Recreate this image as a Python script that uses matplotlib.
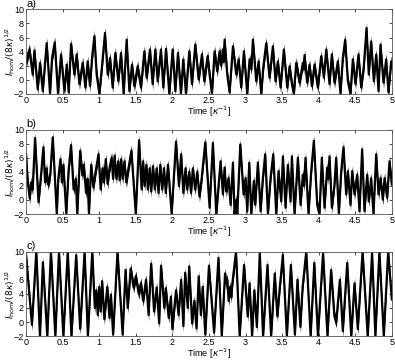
import numpy as np
import matplotlib
matplotlib.use('Agg')
import matplotlib.pyplot as plt

plt.rcParams.update({'font.family': 'Liberation Sans', 'font.size': 6.5,
                     'mathtext.fontset': 'dejavusans'})

# ---- panel a) : extrema ----
ta = [0.0, 0.046, 0.091, 0.114, 0.159, 0.191, 0.228, 0.282, 0.328, 0.355, 0.392, 0.437,
      0.478, 0.524, 0.556, 0.583, 0.615, 0.66, 0.692, 0.729, 0.774, 0.811, 0.842, 0.874,
      0.902, 0.934, 0.965, 1.002, 1.038, 1.079, 1.116, 1.148, 1.184, 1.22, 1.261, 1.298,
      1.334, 1.375, 1.412, 1.448, 1.48, 1.525, 1.571, 1.617, 1.648, 1.694, 1.73, 1.767,
      1.799, 1.844, 1.876, 1.913, 1.958, 2.004, 2.04, 2.077, 2.117, 2.149, 2.186, 2.231,
      2.268, 2.313, 2.359, 2.404, 2.436, 2.482, 2.509, 2.541, 2.577, 2.613, 2.645, 2.665,
      2.69, 2.70, 2.714, 2.75, 2.782, 2.828, 2.873, 2.905, 2.941, 2.978, 3.023, 3.055,
      3.08, 3.101, 3.146, 3.178, 3.215, 3.242, 3.283, 3.328, 3.374, 3.41, 3.442, 3.479,
      3.524, 3.57, 3.602, 3.634, 3.661, 3.693, 3.738, 3.784, 3.795, 3.807, 3.843, 3.875,
      3.907, 3.943, 3.989, 4.034, 4.071, 4.103, 4.148, 4.18, 4.216, 4.262, 4.298, 4.33,
      4.362, 4.399, 4.435, 4.467, 4.503, 4.544, 4.581, 4.617, 4.654, 4.685, 4.717, 4.754,
      4.786, 4.818, 4.845, 4.886, 4.922, 4.954, 4.991, 5.0]
ya = [2.5, 4.3, 0.75, 4.15, -1.35, 2.4, -1.6, 5.2, -2.0, 3.1, 5.3, -2.0,
      3.6, -1.6, 2.15, -1.8, 5.1, 0.75, 3.6, -0.6, 2.4, -1.1, 2.6, -0.9,
      3.1, 6.2, 0.75, -2.0, 1.9, 6.65, 0.75, 3.1, -1.1, 3.8, -0.2, 3.8,
      -2.0, 5.7, -1.6, 2.15, -0.9, 1.9, -1.1, 4.05, 0.3, 4.3, -0.6, 4.3,
      -0.2, 4.3, -1.1, 4.4, -2.0, 4.3, -1.6, 3.8, -2.0, 2.9, -2.0, 4.05,
      -0.6, 5.0, 0.05, 3.6, -0.2, 3.35, 0.75, -2.0, 4.05, 1.2, 4.05, 2.0,
      4.3, 2.5, 5.7, 0.75, -1.8, 4.75, 0.75, 2.9, -1.1, 4.05, -2.0, 2.9,
      1.5, 5.7, -0.2, 2.6, -2.0, 1.7, 5.2, 0.3, 4.75, -0.2, 2.6, -1.1,
      4.3, -1.1, 1.9, -0.6, -2.0, 2.4, -0.4, 2.4, 1.5, 3.5, -0.4, 2.15,
      -0.9, 2.15, -1.1, 3.35, 0.3, 4.3, -0.6, 3.6, -0.4, 2.6, -2.0, 3.1,
      5.7, -0.2, -2.0, 2.9, -0.6, 3.6, -1.1, 1.9, 7.35, 0.75, 5.45, -0.2,
      3.6, -1.6, 5.0, -0.4, 2.9, -1.8, 2.6, 2.1]

# ---- panel b) ----
tb = [0.0, 0.02, 0.05, 0.07, 0.09, 0.123, 0.17, 0.20, 0.237, 0.26, 0.28, 0.30, 0.33,
      0.365, 0.42, 0.44, 0.47, 0.49, 0.51, 0.55, 0.58, 0.615, 0.65, 0.68, 0.70, 0.74,
      0.77, 0.79, 0.82, 0.84, 0.86, 0.89, 0.92, 0.95, 0.99, 1.02, 1.045, 1.065, 1.09,
      1.115, 1.14, 1.17, 1.19, 1.21, 1.235, 1.26, 1.28, 1.30, 1.32, 1.345, 1.37, 1.40,
      1.44, 1.50, 1.545, 1.58, 1.60, 1.62, 1.645, 1.665, 1.69, 1.71, 1.735, 1.76, 1.785,
      1.81, 1.835, 1.86, 1.885, 1.91, 1.94, 1.99, 2.05, 2.09, 2.12, 2.15, 2.18, 2.20,
      2.23, 2.255, 2.28, 2.31, 2.34, 2.37, 2.40, 2.45, 2.509, 2.554, 2.6, 2.659, 2.691,
      2.714, 2.736, 2.768, 2.796, 2.828, 2.85, 2.87, 2.887, 2.928, 2.973, 3.0, 3.023,
      3.051, 3.078, 3.114, 3.133, 3.169, 3.206, 3.237, 3.269, 3.306, 3.342, 3.379, 3.42,
      3.451, 3.488, 3.511, 3.547, 3.579, 3.615, 3.634, 3.67, 3.716, 3.752, 3.784, 3.80,
      3.82, 3.861, 3.898, 3.934, 3.98, 4.011, 4.043, 4.08, 4.116, 4.13, 4.148, 4.18,
      4.216, 4.239, 4.276, 4.308, 4.339, 4.376, 4.399, 4.435, 4.458, 4.49, 4.526, 4.558,
      4.594, 4.626, 4.663, 4.685, 4.717, 4.749, 4.786, 4.818, 4.845, 4.877, 4.9, 4.936,
      4.968, 5.0]
yb = [6.5, 3.0, 0.2, 2.5, 1.5, 8.8, -0.3, 3.0, 7.5, 2.5, 4.5, 2.2, 3.5,
      8.9, -2.0, 3.0, 5.8, 2.5, 5.0, -2.0, 4.0, 7.8, 1.5, 3.0, -2.0, 7.0,
      3.5, 5.0, 1.0, 3.0, -2.0, 5.0, 1.8, 4.0, 6.5, 1.5, 4.5, 2.5, 5.8,
      2.3, 4.5, 6.0, 3.0, 6.3, 3.0, 5.5, 2.8, 5.8, 3.0, 5.5, 2.5, 4.5,
      7.0, -2.0, 8.5, 1.5, 5.5, 2.0, 5.0, 1.5, 4.5, 1.2, 4.8, 1.5, 4.5,
      1.0, 5.0, 1.5, 4.5, 1.0, 5.0, -2.0, 8.3, 2.0, 6.5, 1.0, 4.5, 1.5,
      4.0, 1.0, 4.5, 1.5, 4.0, 0.5, 3.0, 8.2, -1.1, 8.1, -2.0, 5.5, 0.8,
      4.6, 1.2, 3.1, -0.7, 5.3, -2.0, 0.0, -2.0, 7.9, 0.8, 3.1, -1.6,
      5.3, -2.0, 2.7, -0.7, 5.3, -1.6, 3.1, 6.5, -2.0, 3.1, 6.5, -2.0,
      4.1, -0.2, 6.2, -1.1, 5.0, -0.2, 6.2, -2.0, 6.0, -0.7, 3.6, 2.0,
      6.0, -2.0, 4.1, 8.4, -0.7, -2.0, 6.0, -1.1, 4.6, 3.0, 6.2, -1.1,
      2.2, 6.0, -2.0, 4.1, 7.5, 0.8, 4.1, -0.7, 4.1, 0.8, 3.6, -1.6,
      7.2, -1.6, 3.6, -0.2, 3.1, -2.0, 6.5, 0.8, 3.1, 0.05, 3.1, 0.3,
      5.5, 2.2]

# ---- panel c) ----
tc = [0.0, 0.02, 0.08, 0.14, 0.19, 0.23, 0.29, 0.34, 0.40, 0.45, 0.51, 0.57, 0.62,
      0.685, 0.74, 0.80, 0.845, 0.905, 0.94, 0.96, 0.98, 1.0, 1.02, 1.04, 1.07, 1.11,
      1.14, 1.16, 1.19, 1.25, 1.32, 1.36, 1.39, 1.43, 1.47, 1.50, 1.54, 1.57, 1.60,
      1.64, 1.675, 1.71, 1.75, 1.785, 1.82, 1.845, 1.89, 1.91, 1.95, 1.98, 2.0, 2.05,
      2.085, 2.12, 2.15, 2.175, 2.21, 2.23, 2.27, 2.30, 2.33, 2.36, 2.39, 2.415, 2.45,
      2.50, 2.57, 2.63, 2.675, 2.72, 2.735, 2.75, 2.77, 2.79, 2.805, 2.82, 2.87, 2.92,
      2.98, 3.03, 3.055, 3.09, 3.12, 3.155, 3.195, 3.24, 3.30, 3.35, 3.40, 3.435, 3.465,
      3.51, 3.565, 3.62, 3.675, 3.71, 3.75, 3.78, 3.83, 3.89, 3.94, 3.99, 4.06, 4.12,
      4.17, 4.215, 4.24, 4.29, 4.33, 4.39, 4.445, 4.49, 4.535, 4.60, 4.67, 4.73, 4.775,
      4.83, 4.89, 4.95, 5.0]
yc = [9.5, 7.0, -0.4, 10.0, -2.0, 8.5, -2.0, 10.0, -2.0, 10.0, -2.0, 10.0, -2.0,
      9.5, -1.0, 10.0, -2.0, 10.0, 2.0, 4.5, 1.0, 5.0, 1.5, 5.8, 0.4, 5.0,
      0.6, 3.9, -1.8, 10.0, -1.8, 7.4, 2.0, 7.6, 4.9, 6.5, 4.0, 5.5, 3.0,
      6.0, 1.0, 8.3, 1.5, 4.9, -0.2, 8.0, 2.0, 4.8, 0.6, 3.6, -1.0, 4.5,
      1.0, 6.0, -0.6, 7.0, 2.0, 7.9, -0.2, 3.0, -0.9, 6.5, 1.0, 5.0, -1.8,
      8.0, -1.5, 9.1, -2.0, 6.9, 5.5, 6.0, 3.0, 5.0, 3.5, 5.5, 10.0, -2.0,
      8.1, 0.8, 5.5, -2.0, 4.5, -0.7, 9.8, -2.0, 8.1, -2.0, 6.9, 0.8, 4.5,
      9.5, -2.0, 8.1, -1.8, 6.0, -0.7, 4.9, 10.0, -2.0, 8.4, -2.0, 9.8, -2.0,
      7.4, 0.8, 0.0, 6.0, -1.3, 8.4, -2.0, 5.5, -1.0, 10.0, -2.0, 9.8, -2.0,
      10.0, -2.0, 10.0, 3.2]

panels = [('a)', ta, ya), ('b)', tb, yb), ('c)', tc, yc)]
xticks = [0, 0.5, 1, 1.5, 2, 2.5, 3, 3.5, 4, 4.5, 5]
xticklabels = ['0', '0.5', '1', '1.5', '2', '2.5', '3', '3.5', '4', '4.5', '5']
yticks = [-2, 0, 2, 4, 6, 8, 10]
band = 0.8  # half-height of the fast-oscillation smear

fig = plt.figure(figsize=(3.95, 3.61), dpi=100)
bottoms = [0.740, 0.407, 0.069]
for (lab, t, y), b in zip(panels, bottoms):
    ax = fig.add_axes([0.066, b, 0.926, 0.234])
    y = np.array(y)
    ax.fill_between(t, y - band, y + band, color='black', lw=0)
    ax.plot(t, y, color='black', lw=1.6)
    ax.set_xlim(0, 5); ax.set_ylim(-2, 10)
    ax.set_xticks(xticks); ax.set_xticklabels(xticklabels)
    ax.set_yticks(yticks)
    ax.tick_params(direction='in', length=2.5, width=0.5, top=True, right=True, pad=1.5,
                   labelsize=6.5)
    for s in ax.spines.values():
        s.set_linewidth(0.6); s.set_color('#555555')
    ax.set_xlabel(r'Time [$\kappa^{-1}$]', fontsize=6.5, labelpad=-0.5)
    ax.set_ylabel(r'$I_{\rm hom}/(8\kappa)^{1/2}$', fontsize=6.5)
    ax.yaxis.set_label_coords(-0.026, 0.5)
    ax.text(0.0, 1.01, lab, transform=ax.transAxes, fontsize=8, ha='left', va='bottom')

fig.savefig('out.png', dpi=100)
